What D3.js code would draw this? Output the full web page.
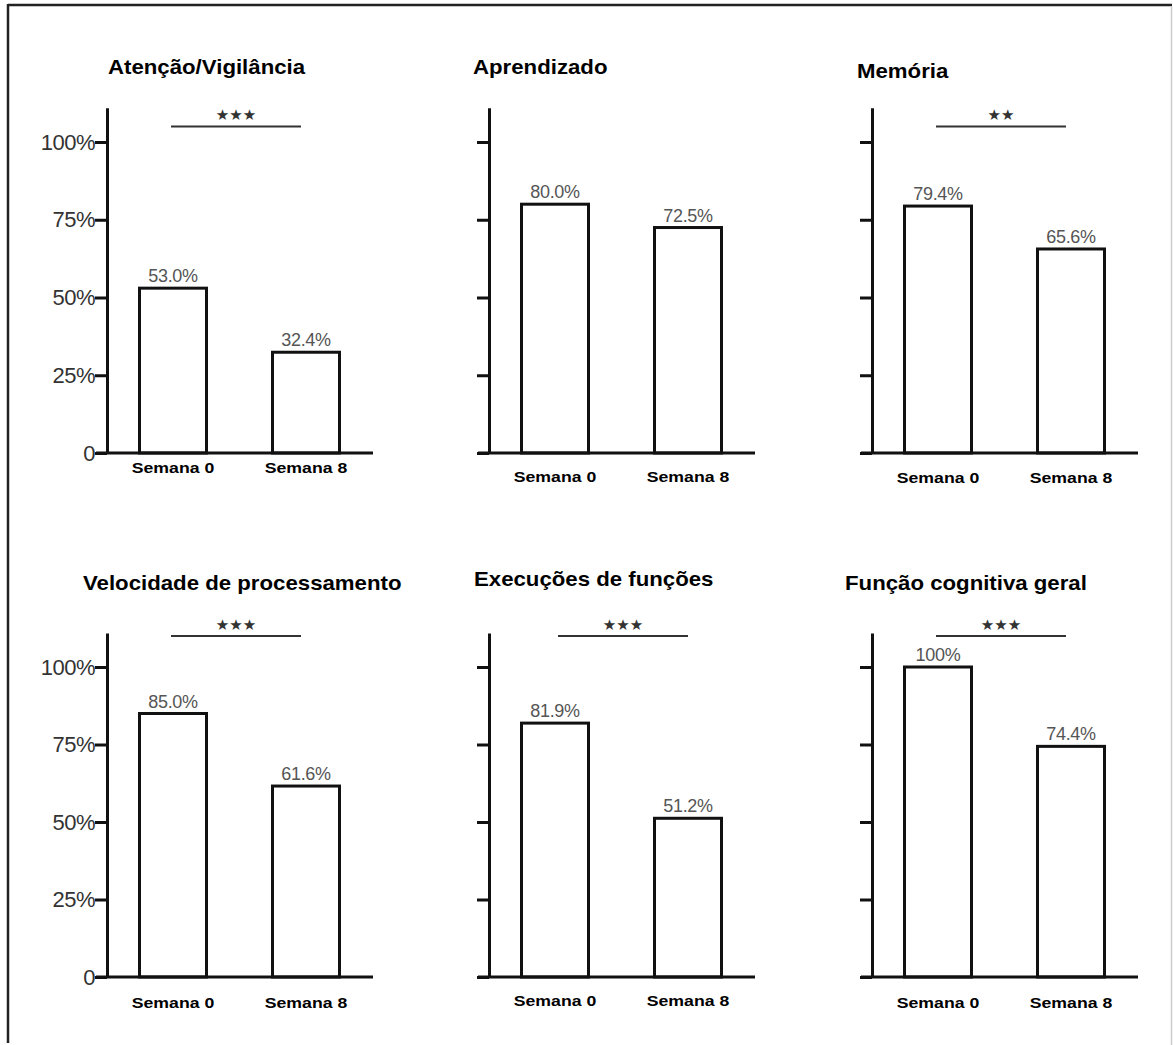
<!DOCTYPE html>
<html>
<head>
<meta charset="utf-8">
<script src="https://cdn.jsdelivr.net/npm/d3@7"></script>
<style>
  body { margin: 0; background: #fff; }
  svg { display: block; }
</style>
</head>
<body>
<div id="chart"></div>
<script>
// data
const titles = ["Atenção/Vigilância", "Aprendizado", "Memória",
  "Velocidade de processamento", "Execuções de funções", "Função cognitiva geral"];
const categories = ["Semana 0", "Semana 8"];
const semana0 = [53.0, 80.0, 79.4, 85.0, 81.9, 100];
const semana8 = [32.4, 72.5, 65.6, 61.6, 51.2, 74.4];
const signif = ["***", "", "**", "***", "***", "***"];
const yTicks = [0, 25, 50, 75, 100];
const yTickLabels = ["0", "25%", "50%", "75%", "100%"];

// layout
const width = 1173, height = 1045;
const colX = [107, 489, 872];
const rowBase = [453, 977];
const row100 = [142, 667];
const sigLevel = [105, 110];
const titleDx = [1, -16, -15, -24, -15, -27];
const titleY = [74, 74, 78, 590, 586, 590];
const labelDy = [20, 29, 30, 31, 29, 31];
const barW = 67;
const stretch = 1.14; // the source text is a bit wide

const svg = d3.select("#chart").append("svg")
    .attr("width", width)
    .attr("height", height);

// frame
svg.append("line").attr("x1", 8).attr("x2", 1172).attr("y1", 5).attr("y2", 5)
    .attr("stroke", "#222").attr("stroke-width", 2.5);
svg.append("line").attr("x1", 8).attr("x2", 8).attr("y1", 4).attr("y2", 1043)
    .attr("stroke", "#222").attr("stroke-width", 2.5);
svg.append("line").attr("x1", 1171.5).attr("x2", 1171.5).attr("y1", 6).attr("y2", 1045)
    .attr("stroke", "#ccc").attr("stroke-width", 1.5);

const fmt = function(v) { return v === 100 ? "100%" : v.toFixed(1) + "%"; };

titles.forEach(function(title, i) {
  const row = Math.floor(i / 3), col = i % 3;
  const ax = colX[col], base = rowBase[row];

  const y = d3.scaleLinear().domain([0, 100]).range([base, row100[row]]);
  const x = d3.scalePoint().domain(categories).range([ax + 66, ax + 199]);

  const g = svg.append("g");

  // bars
  const vals = [semana0[i], semana8[i]];
  g.selectAll("rect")
      .data(vals)
    .enter().append("rect")
      .attr("x", function(d, j) { return x(categories[j]) - barW / 2; })
      .attr("y", function(d) { return y(d); })
      .attr("width", barW)
      .attr("height", function(d) { return base - y(d); })
      .attr("fill", "#fff")
      .attr("stroke", "#111")
      .attr("stroke-width", 3);

  g.selectAll(".val")
      .data(vals)
    .enter().append("text")
      .attr("class", "val")
      .attr("x", function(d, j) { return x(categories[j]); })
      .attr("y", function(d) { return y(d) - 6; })
      .attr("text-anchor", "middle")
      .style("font-family", "Liberation Sans, Arial, sans-serif")
      .style("font-size", "18px")
      .style("letter-spacing", "-0.3px")
      .style("fill", "#555")
      .text(fmt);

  // y axis
  const yAxis = d3.axisLeft(y.copy().domain([0, 111]).range([base, base - (base - row100[row]) * 1.11]))
      .tickValues(yTicks)
      .tickSize(12)
      .tickSizeOuter(0)
      .tickPadding(0)
      .tickFormat(function(d, k) { return col === 0 ? yTickLabels[k] : ""; });

  const ya = g.append("g")
      .attr("transform", "translate(" + ax + ",0)")
      .call(yAxis);
  ya.select(".domain").attr("stroke", "#111").attr("stroke-width", 3);
  ya.selectAll(".tick line").attr("stroke", "#111").attr("stroke-width", 3);
  ya.selectAll(".tick text")
      .style("font-family", "Liberation Sans, Arial, sans-serif")
      .style("font-size", "22px")
      .style("letter-spacing", "-0.5px")
      .style("fill", "#333");

  // x baseline
  g.append("line")
      .attr("x1", ax - 11).attr("x2", ax + 266)
      .attr("y1", base).attr("y2", base)
      .attr("stroke", "#111").attr("stroke-width", 3);

  g.selectAll(".cat")
      .data(categories)
    .enter().append("text")
      .attr("class", "cat")
      .attr("transform", function(d) {
        return "translate(" + x(d) + "," + (base + labelDy[i]) + ") scale(" + stretch + ",1)";
      })
      .attr("text-anchor", "middle")
      .style("font-family", "Liberation Sans, Arial, sans-serif")
      .style("font-weight", "bold")
      .style("font-size", "15.5px")
      .style("fill", "#000")
      .text(function(d) { return d; });

  // title
  g.append("text")
      .attr("transform", "translate(" + (ax + titleDx[i]) + "," + titleY[i] + ") scale(" + stretch + ",1)")
      .style("font-family", "Liberation Sans, Arial, sans-serif")
      .style("font-weight", "bold")
      .style("font-size", "19.5px")
      .style("fill", "#000")
      .text(title);

  // significance bar
  if (signif[i]) {
    const sy = y(sigLevel[row]);
    const x0 = x(categories[0]) - 2 + (row === 1 && col === 1 ? 5 : 0);
    const x1 = x(categories[1]) - 5 + (row === 1 && col === 1 ? 5 : 0);
    g.append("line")
        .attr("x1", x0).attr("x2", x1)
        .attr("y1", sy).attr("y2", sy)
        .attr("stroke", "#333").attr("stroke-width", 2);
    g.append("text")
        .attr("x", (x0 + x1) / 2)
        .attr("y", sy - 6)
        .attr("text-anchor", "middle")
        .style("font-family", "DejaVu Sans, sans-serif")
        .style("font-size", "15px")
        .style("fill", "#333")
        .text(signif[i].replace(/\*/g, "★"));
  }
});
</script>
</body>
</html>
